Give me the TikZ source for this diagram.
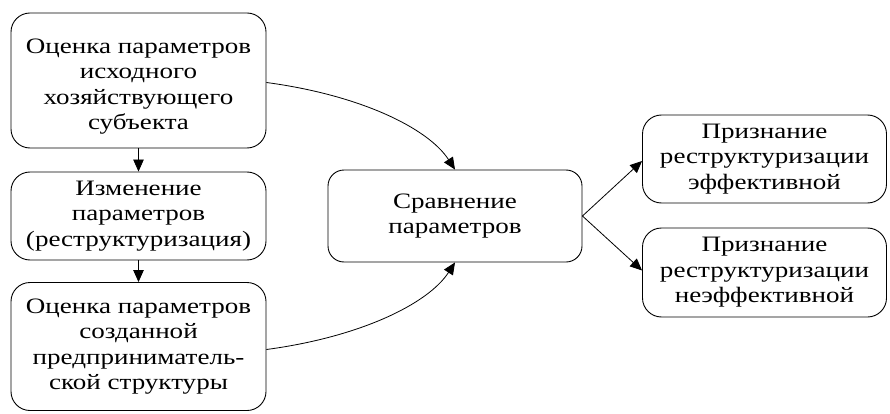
\documentclass[tikz,border=0pt]{standalone}
\usepackage{fontspec}
\setmainfont{Liberation Serif}[FakeStretch=1.23]
\usetikzlibrary{arrows.meta}

\begin{document}
\begin{tikzpicture}[x=1pt,y=1pt,
  box/.style={draw=black, line width=0.9pt, rounded corners=19pt,
    align=center, inner sep=0pt,
    font=\fontsize{22}{25.5}\selectfont},
  txt/.style={align=center, inner sep=0pt,
    font=\fontsize{22}{25.5}\selectfont},
  link/.style={draw=black, line width=0.8pt,
    -{Triangle[length=12pt,width=10.5pt]}}]
  \useasboundingbox (0,0) rectangle (890,-414);
  \fill[white] (0,0) rectangle (890,-414);

  % left column: initial state, change, resulting state
  \node[box, minimum width=255pt, minimum height=135pt] (A) at (138.5,-80.5) {};
  \node[txt] (At) at ([yshift=-6pt]A.center)
    {Оценка параметров\\исходного\\хозяйствующего\\субъекта};
  \node[box, minimum width=255pt, minimum height=88pt] (B) at (138.5,-216)
    {Изменение\\параметров\\(реструктуризация)};
  \node[box, minimum width=255pt, minimum height=128pt] (C) at (138.5,-346.5)
    {Оценка параметров\\созданной\\предприниматель-\\ской структуры};

  % comparison
  \node[box, rounded corners=16pt, minimum width=254pt, minimum height=92pt] (D) at (455,-216)
    {Сравнение\\параметров};

  % outcomes
  \node[box, minimum width=244pt, minimum height=88pt] (E) at (764.5,-159)
    {Признание\\реструктуризации\\эффективной};
  \node[box, minimum width=244pt, minimum height=89pt] (F) at (764.5,-272.5)
    {Признание\\реструктуризации\\неэффективной};

  \draw[link] (A) -- (B);
  \draw[link] (B) -- (C);
  \draw[link] ([yshift=-2pt]A.east) .. controls (360,-95) and (428,-128) .. (D.north);
  \draw[link] ([yshift=-3pt]C.east) .. controls (360,-337) and (428,-304) .. (D.south);
  \draw[link] (D.east) -- ([yshift=-2pt]E.west);
  \draw[link] (D.east) -- ([yshift=2pt]F.west);
\end{tikzpicture}
\end{document}
